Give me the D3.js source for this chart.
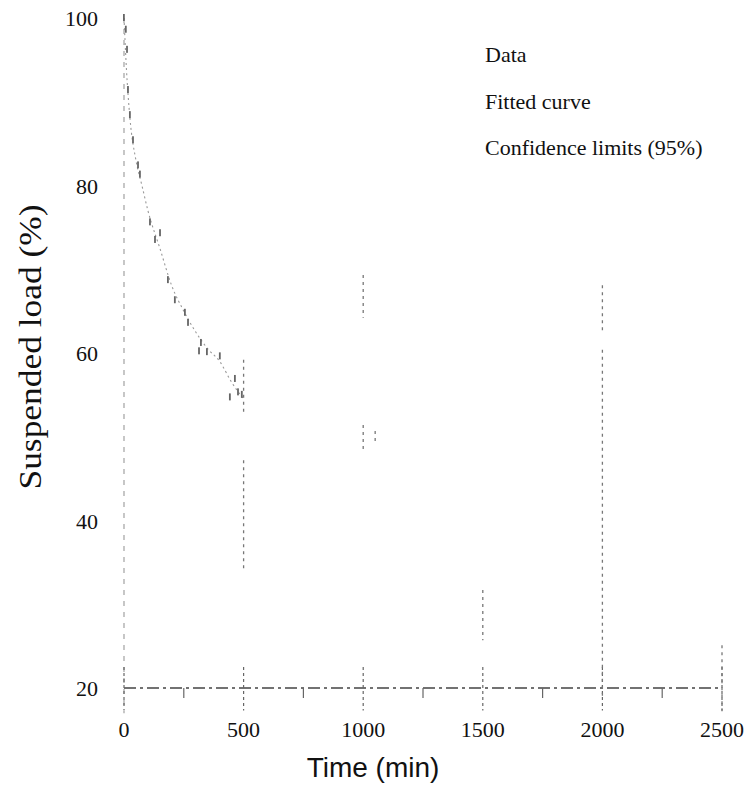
<!DOCTYPE html>
<html><head><meta charset="utf-8">
<script src="https://cdn.jsdelivr.net/npm/d3@7"></script>
<style>body{margin:0;background:#fff}svg{display:block}</style>
</head><body>
<svg id="c" width="745" height="785"></svg>
<script>
// Data read from the (degraded) scanned figure
const dataTime = [0, 8, 13, 17, 25, 38, 59, 67, 109, 130, 151, 184, 213, 255, 268, 314, 322, 347, 401, 443, 464, 477, 493];
const dataLoad = [100, 98.6, 96.2, 91.4, 88.4, 85.4, 82.4, 81.3, 75.6, 73.5, 74.3, 68.7, 66.3, 64.8, 63.6, 60.2, 61.2, 60.1, 59.6, 54.7, 56.9, 55.3, 55.0];
const fitTime = [0, 10, 25, 50, 75, 100, 150, 200, 250, 300, 350, 400, 450, 500];
const fitLoad = [100, 94, 88, 83, 80, 77, 72.5, 68, 65, 62.5, 60.5, 59, 56.5, 54.5];
// faint vertical traces (confidence limits) at the sampling times
const limTime = [500, 500, 1000, 1000, 1050, 1500, 2000, 2000, 2500];
const limLow  = [52.6, 34.1, 64.2, 48.4, 49.5, 25.7, 62.7, 18.6, 17.1];
const limHigh = [59.2, 47.2, 69.3, 51.4, 50.7, 31.7, 68.1, 60.4, 25.1];
const xTicks = [0, 500, 1000, 1500, 2000, 2500];
const xMinor = [250, 750, 1250, 1750, 2250];
const yTicks = [20, 40, 60, 80, 100];
const legendLabels = ["Data", "Fitted curve", "Confidence limits (95%)"];

const svg = d3.select("#c");
const x = d3.scaleLinear().domain([0, 2500]).range([124, 722]);
const y = d3.scaleLinear().domain([20, 100]).range([688, 18]);
const serif = "'Liberation Serif','Times New Roman',serif";

// y axis (faint dashed)
svg.append("line").attr("x1", x(0)).attr("x2", x(0)).attr("y1", y(100)).attr("y2", y(17))
  .attr("stroke", "#999").attr("stroke-width", 1.1).attr("stroke-dasharray", "5,6");
// x axis line at 20
svg.append("line").attr("x1", x(0)).attr("x2", x(2500)).attr("y1", y(20)).attr("y2", y(20))
  .attr("stroke", "#444").attr("stroke-width", 1.3).attr("stroke-dasharray", "12,4,3,4");
// major ticks
svg.selectAll(".mj").data(xTicks).enter().append("line")
  .attr("x1", d => x(d)).attr("x2", d => x(d)).attr("y1", y(22.5)).attr("y2", y(17.3))
  .attr("stroke", "#666").attr("stroke-width", 1.2).attr("stroke-dasharray", "3,3");
svg.selectAll(".mn").data(xMinor).enter().append("line")
  .attr("x1", d => x(d)).attr("x2", d => x(d)).attr("y1", y(20)).attr("y2", y(18.8))
  .attr("stroke", "#666").attr("stroke-width", 1.2);

// vertical limit traces
svg.selectAll(".lim").data(limTime).enter().append("line")
  .attr("x1", d => x(d)).attr("x2", d => x(d))
  .attr("y1", (d, i) => y(limHigh[i])).attr("y2", (d, i) => y(limLow[i]))
  .attr("stroke", "#777").attr("stroke-width", 1.3).attr("stroke-dasharray", "3,4");

// fitted curve
const line = d3.line().x(d => x(d[0])).y(d => y(d[1])).curve(d3.curveMonotoneX);
svg.append("path").datum(fitTime.map((t, i) => [t, fitLoad[i]]))
  .attr("d", line).attr("fill", "none").attr("stroke", "#999")
  .attr("stroke-width", 1.1).attr("stroke-dasharray", "2,3");

// data points (faint specks)
svg.selectAll(".pt").data(dataTime).enter().append("rect")
  .attr("x", d => x(d) - 1).attr("y", (d, i) => y(dataLoad[i]) - 4)
  .attr("width", 1.8).attr("height", 7).attr("fill", "#666");

// tick labels
svg.selectAll(".xl").data(xTicks).enter().append("text")
  .attr("x", d => x(d)).attr("y", 737).attr("text-anchor", "middle")
  .attr("font-family", serif).attr("font-size", 22).attr("fill", "#111").text(d => d);
svg.selectAll(".yl").data(yTicks).enter().append("text")
  .attr("x", 98).attr("y", d => y(d) + 8).attr("text-anchor", "end")
  .attr("font-family", serif).attr("font-size", 22).attr("fill", "#111").text(d => d);

// axis titles
svg.append("text").attr("transform", "translate(41,347) rotate(-90)")
  .attr("text-anchor", "middle").attr("font-family", serif).attr("font-size", 32)
  .attr("textLength", 285).attr("lengthAdjust", "spacingAndGlyphs")
  .attr("fill", "#111").text("Suspended load (%)");
svg.append("text").attr("x", 373).attr("y", 777).attr("text-anchor", "middle")
  .attr("font-family", "'Liberation Sans',Arial,sans-serif").attr("font-size", 28)
  .attr("fill", "#111").text("Time (min)");

// legend
svg.selectAll(".lg").data(legendLabels).enter().append("text")
  .attr("x", 485).attr("y", (d, i) => 62 + i * 46.5)
  .attr("font-family", serif).attr("font-size", 22).attr("fill", "#111").text(d => d);
</script>
</body></html>
